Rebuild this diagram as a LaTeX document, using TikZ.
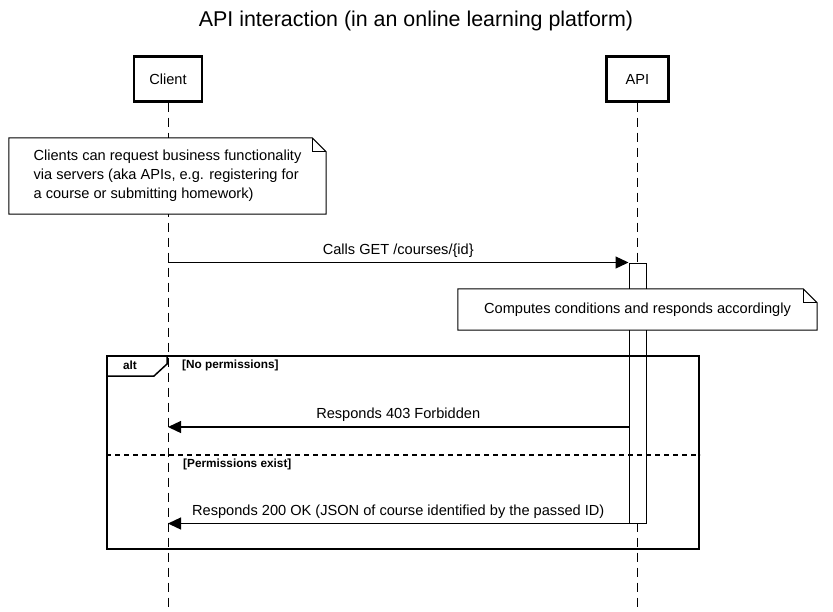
\documentclass[tikz,border=0pt]{standalone}
\usepackage{fontspec}
\setmainfont{Liberation Sans}
\usetikzlibrary{arrows.meta,positioning}

\begin{document}
\begin{tikzpicture}[x=1pt,y=-1pt,
    actor/.style={draw, line width=2.2pt, minimum width=68pt, minimum height=45pt, font=\fontsize{14.6}{17}\selectfont},
    lifeline/.style={line width=1pt, dash pattern=on 9pt off 6pt},
    msg/.style={line width=1.3pt, -{Triangle[length=13pt,width=12pt]}},
    lbl/.style={font=\fontsize{14.6}{17}\selectfont},
    guard/.style={font=\bfseries\fontsize{11.8}{14}\selectfont, anchor=west, inner sep=0pt}]
  \useasboundingbox (0,0) rectangle (833,611);
  \node[font=\fontsize{21.4}{25}\selectfont] (title) at (416,21) {API interaction (in an online learning platform)};
    \node[actor] (client) at (168,79) {Client};
    \node[actor, minimum width=62pt] (api) at (637.5,79) {API};
  \draw[lifeline] (client.south) -- (client.south |- 0,611);
  \draw[lifeline] (api.south) -- (api.south |- 0,611);
    \node[draw, fill=white, line width=1pt, minimum width=17pt, minimum height=260pt, inner sep=0pt] (act) at (637.5,393) {};
  % notes
    \node[lbl, font=\fontsize{14.6}{19}\selectfont, align=left, fill=white, minimum width=317pt, minimum height=76pt] (noteA) at (167.5,176) {Clients can request business functionality\\via servers (aka APIs, e.g. registering for\\a course or submitting homework)};
  \draw[line width=1pt] (noteA.north west) -- ([xshift=-14pt]noteA.north east) -- ([yshift=-14pt]noteA.north east) -- (noteA.south east) -- (noteA.south west) -- cycle;
  \draw[line width=1pt] ([xshift=-14pt]noteA.north east) |- ([yshift=-14pt]noteA.north east);
    \node[lbl, fill=white, minimum width=359pt, minimum height=41pt] (noteB) at (637.5,309.5) {Computes conditions and responds accordingly};
  \draw[line width=1pt] (noteB.north west) -- ([xshift=-14pt]noteB.north east) -- ([yshift=-14pt]noteB.north east) -- (noteB.south east) -- (noteB.south west) -- cycle;
  \draw[line width=1pt] ([xshift=-14pt]noteB.north east) |- ([yshift=-14pt]noteB.north east);
  % alt frame
    \node[draw, line width=2pt, minimum width=592pt, minimum height=193pt] (alt) at (403,452.5) {};
  \draw[line width=1.5pt] ([yshift=-21pt]alt.north west) -- ++(48,0) -- ++(13,-12) -- ++(0,-9);
    \node[font=\bfseries\fontsize{11.8}{14}\selectfont] (altlbl) at ([xshift=24pt,yshift=-10.5pt]alt.north west) {alt};
    \node[guard] (g1) at ([xshift=76pt,yshift=-10.5pt]alt.north west) {[No permissions]};
  \draw[line width=1.5pt, dash pattern=on 5pt off 4pt] (alt.west |- 0,455) -- (alt.east |- 0,455);
    \node[guard] (g2) at (183,464) {[Permissions exist]};
  % messages
  \coordinate (c1) at (client |- act.north);
  \coordinate (a2) at (act.west |- 0,427);
  \coordinate (c2) at (client |- a2);
  \coordinate (c3) at (client |- act.south);
  \draw[msg] (c1) -- (act.north west) node[lbl, midway, above=1pt] {Calls GET /courses/\{id\}};
  \draw[msg] (a2) -- (c2) node[lbl, midway, above=1pt] {Responds 403 Forbidden};
  \draw[msg] (act.south west) -- (c3) node[lbl, midway, above=1pt] {Responds 200 OK (JSON of course identified by the passed ID)};
\end{tikzpicture}
\end{document}
